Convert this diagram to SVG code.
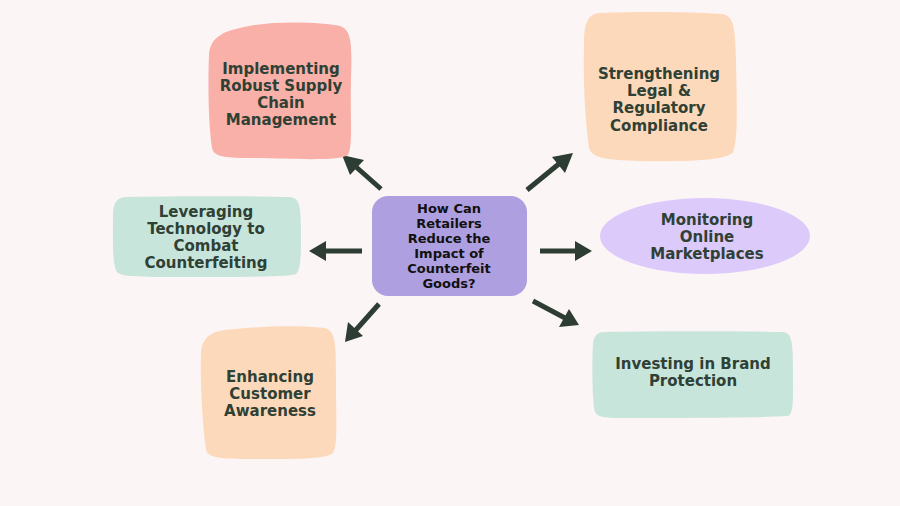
<svg xmlns="http://www.w3.org/2000/svg" width="900" height="506" viewBox="0 0 900 506">
<defs>
<style>
.t{font-family:"DejaVu Sans",sans-serif;font-weight:700;fill:#2f4034;text-anchor:middle;font-size:15px}
.c{font-family:"DejaVu Sans",sans-serif;font-weight:700;fill:#111111;text-anchor:middle;font-size:13px}
.a{stroke:#2d3d33;stroke-width:5;fill:none;stroke-linecap:butt}
.h{fill:#2d3d33}
</style>
</defs>
<rect width="900" height="506" fill="#fcf5f5"/>
<g id="connectors">
<g><line class="a" x1="381" y1="189" x2="355" y2="166"/><polygon class="h" points="342,155 364,160 350,175"/></g>
<g><line class="a" x1="527" y1="190" x2="560" y2="163"/><polygon class="h" points="573,153 565,173 552,157"/></g>
<g><line class="a" x1="362" y1="251" x2="322" y2="251"/><polygon class="h" points="309,251 326,241 326,261"/></g>
<g><line class="a" x1="540" y1="251" x2="578" y2="251"/><polygon class="h" points="592,251 575,241 575,261"/></g>
<g><line class="a" x1="379" y1="304" x2="355" y2="331"/><polygon class="h" points="345,342 348,322 363,336"/></g>
<g><line class="a" x1="533" y1="301" x2="565" y2="318"/><polygon class="h" points="579,325 559,327 569,309"/></g>
</g>
<g id="center">
<rect x="372" y="196" width="155" height="100" rx="16" fill="#ae9fe0"/>
<text class="c" x="449" y="213">How Can</text>
<text class="c" x="449" y="228">Retailers</text>
<text class="c" x="449" y="243">Reduce the</text>
<text class="c" x="449" y="258">Impact of</text>
<text class="c" x="449" y="273">Counterfeit</text>
<text class="c" x="449" y="288">Goods?</text>
</g>
<g id="supply">
<path d="M240,28 C270,20 320,22 340,26 C352,30 352,45 351,80 C350,120 353,145 348,155 C340,161 300,159 250,158 C222,158 214,156 212,148 C208,120 208,80 209,55 C210,38 222,32 240,28 Z" fill="#f8b0a8"/>
<text class="t" x="281" y="74">Implementing</text>
<text class="t" x="281" y="91">Robust Supply</text>
<text class="t" x="281" y="108">Chain</text>
<text class="t" x="281" y="125">Management</text>
</g>
<g id="legal">
<path d="M600,13 C640,11 700,12 722,14 C735,16 735,30 736,60 C737,110 738,140 733,152 C728,160 690,162 640,161 C605,160 592,158 589,148 C585,120 583,80 584,45 C584,22 588,14 600,13 Z" fill="#fdd9bb"/>
<text class="t" x="659" y="79">Strengthening</text>
<text class="t" x="659" y="96">Legal &amp;</text>
<text class="t" x="659" y="113">Regulatory</text>
<text class="t" x="659" y="131">Compliance</text>
</g>
<g id="technology">
<path d="M126,197 C180,196 250,196 290,197 C299,198 301,205 301,230 C301,255 301,270 296,274 C290,277 240,277 180,277 C140,277 122,277 117,272 C112,265 113,240 113,215 C113,203 117,197 126,197 Z" fill="#c8e5dc"/>
<text class="t" x="206" y="217">Leveraging</text>
<text class="t" x="206" y="234">Technology to</text>
<text class="t" x="206" y="251">Combat</text>
<text class="t" x="206" y="268">Counterfeiting</text>
</g>
<g id="monitoring">
<ellipse cx="705" cy="236" rx="105" ry="38" fill="#dccafb"/>
<text class="t" x="707" y="225">Monitoring</text>
<text class="t" x="707" y="242">Online</text>
<text class="t" x="707" y="259">Marketplaces</text>
</g>
<g id="awareness">
<path d="M225,330 C260,326 300,325 325,328 C336,331 336,345 336,380 C336,420 338,445 333,453 C325,460 290,459 250,459 C222,459 208,458 206,450 C202,420 200,380 201,352 C202,338 210,332 225,330 Z" fill="#fdd9bb"/>
<text class="t" x="270" y="382">Enhancing</text>
<text class="t" x="270" y="399">Customer</text>
<text class="t" x="270" y="416">Awareness</text>
</g>
<g id="brand">
<path d="M605,332 C660,331 740,331 783,332 C792,333 793,342 793,370 C793,400 794,413 788,416 C760,418 680,418 620,418 C600,418 595,416 594,408 C592,390 592,360 593,343 C594,335 598,332 605,332 Z" fill="#c8e5dc"/>
<text class="t" x="693" y="369">Investing in Brand</text>
<text class="t" x="693" y="386">Protection</text>
</g>
</svg>
